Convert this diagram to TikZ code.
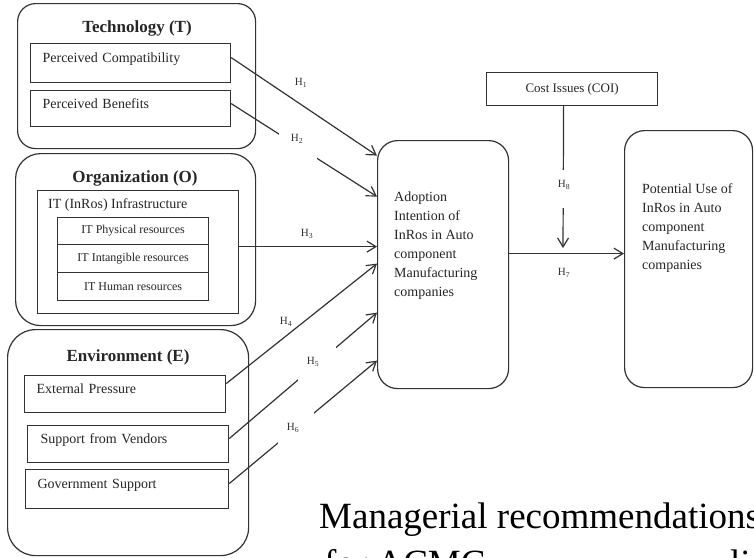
\documentclass[tikz,border=0pt]{standalone}
\usepackage{fontspec}
\setmainfont{Liberation Serif}
\usetikzlibrary{arrows.meta}
\begin{document}
\begin{tikzpicture}[x=1pt,y=-1pt,
  ln/.style={draw=black!80,line width=1.2pt},
  group/.style={ln,rounded corners=#1,inner sep=0pt,anchor=north west},
  title/.style={font=\fontsize{17}{20}\selectfont\bfseries,text=black!85,inner sep=0pt},
  item/.style={ln,anchor=north west,inner xsep=12pt,inner ysep=0pt,align=left,
    font=\fontsize{14}{16}\selectfont,text=black!85,text height=10pt,text depth=11pt},
  res/.style={ln,anchor=north west,inner sep=0pt,minimum width=151pt,
    font=\fontsize{12}{14}\selectfont,text=black!85},
  plain/.style={inner sep=0pt,font=\fontsize{14}{19}\selectfont,text=black!85},
  body/.style={plain,align=left,anchor=north west},
  hyp/.style={inner sep=0pt,font=\fontsize{11}{13}\selectfont,text=black!80},
  gap/.style={fill=white,inner sep=0pt},
  arr/.style={ln,-{Straight Barb[length=9pt,width=11pt]}},
  big/.style={inner sep=0pt,anchor=base west,font=\fontsize{37}{44}\selectfont}
]
\clip (0,0) rectangle (754,557);
\fill[white] (0,0) rectangle (754,557);

% Technology group
\node[group=18pt,minimum width=238pt,minimum height=145pt] (T) at (17,3) {};
\node[title] (Tt) at (137,28) {Technology (T)};
\node[item,text width=176pt,minimum height=39pt] (pc) at (30,43) {Perceived Compatibility};
\node[item,text width=176pt,minimum height=36pt] (pb) at (30,90) {Perceived Benefits};

% Organization group
\node[group=25pt,minimum width=240pt,minimum height=172pt] (O) at (15,153) {};
\node[title] (Ot) at (135,178) {Organization (O)};
\node[ln,anchor=north west,inner sep=0pt,minimum width=201pt,minimum height=123pt] (infra) at (37,190) {};
\node[plain,anchor=west] (infrat) at (48,205) {IT (InRos) Infrastructure};
\node[res,minimum height=27pt] (phys) at (57,217) {IT Physical resources};
\node[res,minimum height=28pt] (intang) at (57,244) {IT Intangible resources};
\node[res,minimum height=28pt] (human) at (57,272) {IT Human resources};

% Environment group
\node[group=28pt,minimum width=241pt,minimum height=226pt] (E) at (7,329) {};
\node[title] (Et) at (128,357) {Environment (E)};
\node[item,text width=177pt,minimum height=37pt] (ep) at (24,375) {External Pressure};
\node[item,inner xsep=13pt,text width=175pt,minimum height=37pt] (sv) at (27,425) {Support from Vendors};
\node[item,text width=179pt,minimum height=39pt] (gs) at (25,469) {Government Support};

% Adoption, outcome and moderator
\node[group=20pt,minimum width=131pt,minimum height=248pt] (ad) at (377,140) {};
\node[body] (adt) at (394,192) {Adoption\\Intention of\\InRos in Auto\\component\\Manufacturing\\companies};
\node[group=20pt,minimum width=128pt,minimum height=257pt] (pu) at (624,130) {};
\node[body] (put) at (642,183) {Potential Use of\\InRos in Auto\\component\\Manufacturing\\companies};
\node[ln,anchor=north west,inner sep=0pt,minimum width=171pt,minimum height=33pt,
  font=\fontsize{13}{15}\selectfont,text=black!85] (cost) at (486,72) {Cost Issues (COI)};

% Hypothesised paths
\draw[arr] ([yshift=5.5pt]pc.east) -- ([yshift=109pt]ad.west);
\draw[arr] ([yshift=5pt]pb.east) --
  node[gap,pos=0.46,minimum width=38pt,minimum height=26pt] (g2) {}
  ([yshift=68pt]ad.west);
\draw[arr] ([yshift=5.5pt]infra.east) -- ([yshift=5.5pt]infra.east -| ad.west);
\draw[arr] ([yshift=10.5pt]ep.east) -- ([yshift=1pt]ad.west);
\draw[arr] ([yshift=5.5pt]sv.east) --
  node[gap,pos=0.595,minimum width=38pt,minimum height=34pt] (g5) {}
  ([yshift=-48pt]ad.west);
\draw[arr] ([yshift=5.5pt]gs.east) --
  node[gap,pos=0.449,minimum width=36pt,minimum height=32pt] (g6) {}
  ([yshift=-96pt]ad.west);
\draw[arr] ([yshift=11pt]ad.east) -- ([yshift=11pt]ad.east -| pu.west);
\coordinate (h8tip) at (563,248);
\draw[arr] ([xshift=-8.5pt]cost.south) --
  node[gap,pos=0.587,minimum width=20pt,minimum height=38pt] (g8) {}
  (h8tip);

% Hypothesis labels
\node[hyp] (h1) at (301,83) {H\textsubscript{1}};
\node[hyp] (h2) at (297,139) {H\textsubscript{2}};
\node[hyp] (h3) at (307,234) {H\textsubscript{3}};
\node[hyp] (h4) at (286,322) {H\textsubscript{4}};
\node[hyp] (h5) at (313,362) {H\textsubscript{5}};
\node[hyp] (h6) at (293,428) {H\textsubscript{6}};
\node[hyp] (h7) at (564,273) {H\textsubscript{7}};
\node[hyp] (h8) at (564,185) {H\textsubscript{8}};

% Running text below the model
\node[big] (mr1) at (319,528) {Managerial recommendations};
\node[big] (mr2) at (324,575) {for ACMC};
\node[big] (mr3) at (730,575) {li};
\end{tikzpicture}
\end{document}
